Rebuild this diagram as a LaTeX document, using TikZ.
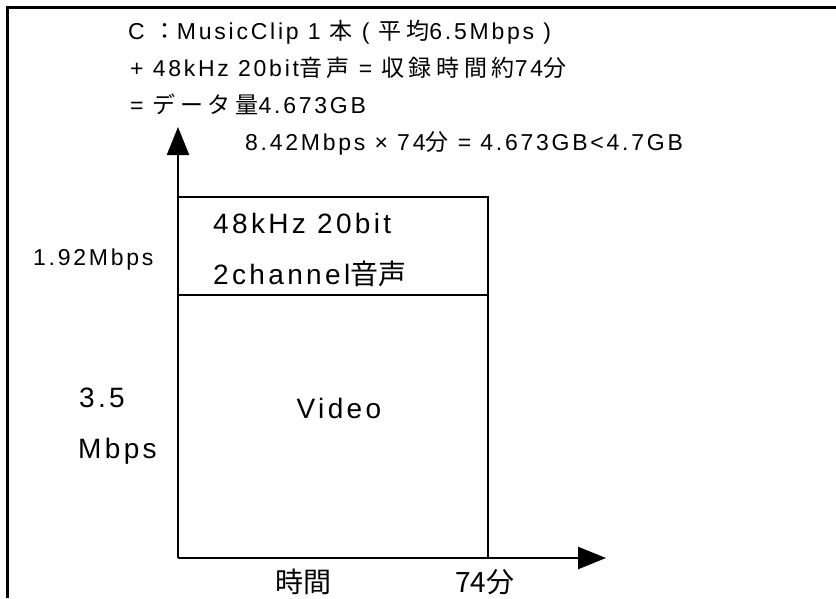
\documentclass[tikz,border=0pt]{standalone}
\usepackage{fontspec}
\setmainfont[LetterSpace=12]{Liberation Sans}
\newfontfamily\jp[LetterSpace=20]{Noto Sans CJK JP}
\newfontfamily\jpbig{Noto Sans CJK JP}
\usetikzlibrary{arrows.meta}

\begin{document}
\begin{tikzpicture}[x=1pt,y=-1pt,
  axis/.style={line width=2.5pt,-{Triangle[length=28pt,width=22pt]}},
  boxline/.style={line width=1.5pt},
  txt/.style={anchor=base west,inner sep=0pt,font=\fontsize{23}{23}\selectfont},
  big/.style={anchor=base west,inner sep=0pt,font=\fontsize{28}{28}\selectfont}]
  \useasboundingbox (0,0) rectangle (836,598);
  % frame
  \draw[line width=3pt] (836,7) -- (7,7) -- (7,598);
  % axes and blocks
  \coordinate (O)    at (178,558);
  \coordinate (ytop) at (178,127);
  \coordinate (xend) at (606,558);
  \coordinate (tl)   at (178,197);
  \coordinate (tr)   at (488,197);
  \coordinate (br)   at (488,558);
  \coordinate (ml)   at (178,295);
  \coordinate (mr)   at (488,295);
  \draw[axis] (O) -- (ytop);
  \draw[axis] (O) -- (xend);
  \draw[boxline] (tl) -- (tr) -- (br);
  \draw[boxline] (ml) -- (mr);
  % notes
  \node[txt] (title) at (128,39)  {C {\jp ：}MusicClip 1 {\jp 本} ( {\jp 平均}6.5Mbps )};
  \node[txt] (sum)   at (130,76)  {+ 48kHz 20bit{\jp 音声} = {\jp 収録時間約}74{\jp 分}};
  \node[txt] (size)  at (130,113) {= {\jp データ量}4.673GB};
  \node[txt] (calc)  at (245,150) {8.42Mbps × 74{\jp 分} = 4.673GB<4.7GB};
  % labels
  \node[txt]  (rate)   at (33,265)  {1.92Mbps};
  \node[big]  (audio1) at (213,233) {48kHz 20bit};
  \node[big]  (audio2) at (213,284) {2channel{\jpbig 音声}};
  \node[big,anchor=base] (video) at (339,418) {Video};
  \node[big]  (vrate1) at (79,407)  {3.5};
  \node[big]  (vrate2) at (78,458)  {Mbps};
  \node[big,anchor=west] (time)  at (275,582) {\jpbig 時間};
  \node[big,anchor=west] (total) at (455,582) {\jpbig 74分};
\end{tikzpicture}
\end{document}
